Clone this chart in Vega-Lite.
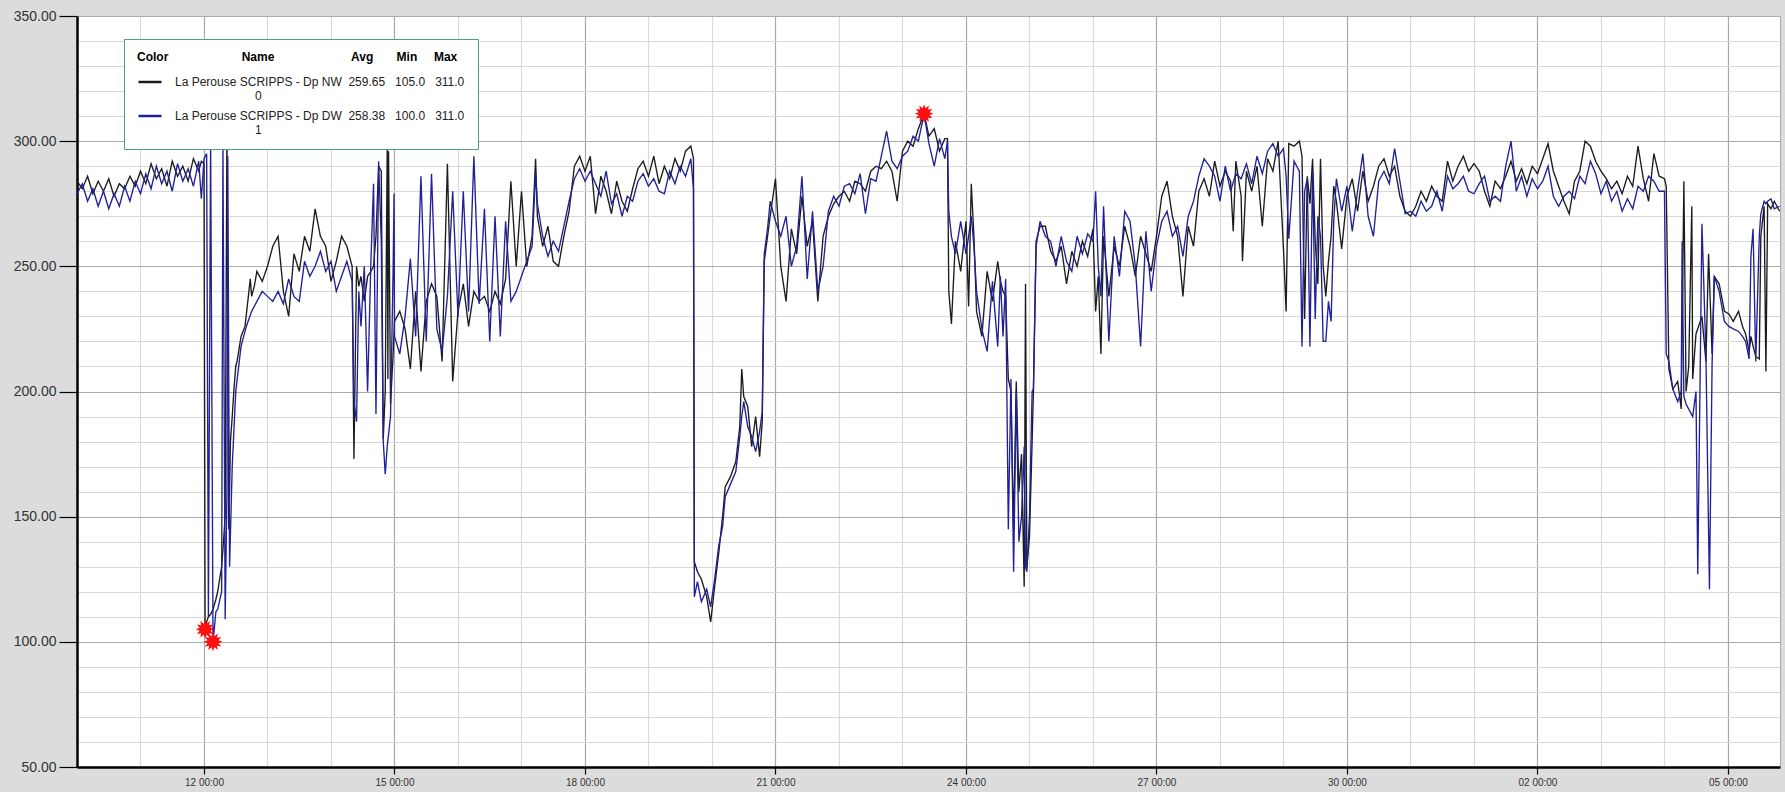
{
"$schema":"https://vega.github.io/schema/vega-lite/v6.json",
"width":1703,"height":751,
"autosize":{"type":"none"},
"padding":{"left":77,"top":16,"right":5,"bottom":25},
"background":"#dcdcdc",
"config":{"view":{"fill":"#ffffff","stroke":"#a8a8a8","strokeWidth":1},"font":"Liberation Sans"},
"data":{"values":[
{"t":"2014-10-10T00:00","NW":284,"DW":279},{"t":"2014-10-10T02:00","NW":281,"DW":283},{"t":"2014-10-10T04:00","NW":286,"DW":276},{"t":"2014-10-10T06:00","NW":279,"DW":281},{"t":"2014-10-10T08:00","NW":284,"DW":274},{"t":"2014-10-10T10:00","NW":280,"DW":280},{"t":"2014-10-10T12:00","NW":285,"DW":273},{"t":"2014-10-10T14:00","NW":278,"DW":279},{"t":"2014-10-10T16:00","NW":283,"DW":274},{"t":"2014-10-10T18:00","NW":281,"DW":282},{"t":"2014-10-10T20:00","NW":286,"DW":276},{"t":"2014-10-10T22:00","NW":282,"DW":284},
{"t":"2014-10-11T00:00","NW":288,"DW":279},{"t":"2014-10-11T02:00","NW":283,"DW":287},{"t":"2014-10-11T04:00","NW":291,"DW":281},{"t":"2014-10-11T06:00","NW":285,"DW":290},{"t":"2014-10-11T08:00","NW":289,"DW":283},{"t":"2014-10-11T10:00","NW":282,"DW":288},{"t":"2014-10-11T12:00","NW":292,"DW":280},{"t":"2014-10-11T14:00","NW":286,"DW":291},{"t":"2014-10-11T16:00","NW":290,"DW":284},{"t":"2014-10-11T18:00","NW":284,"DW":289},{"t":"2014-10-11T20:00","NW":293,"DW":282},{"t":"2014-10-11T22:00","NW":288,"DW":292},{"t":"2014-10-11T23:00","NW":292,"DW":277},
{"t":"2014-10-12T00:00","NW":291,"DW":293},{"t":"2014-10-12T00:25","NW":105,"DW":null},{"t":"2014-10-12T01:00","NW":108,"DW":295},{"t":"2014-10-12T01:40","NW":110,"DW":110},{"t":"2014-10-12T02:30","NW":111,"DW":301},{"t":"2014-10-12T03:25","NW":113,"DW":100},{"t":"2014-10-12T04:30","NW":117,"DW":112},{"t":"2014-10-12T05:10","NW":120,"DW":113},{"t":"2014-10-12T06:40","NW":130,"DW":120},{"t":"2014-10-12T07:10","NW":137,"DW":298},{"t":"2014-10-12T08:00","NW":150,"DW":109},{"t":"2014-10-12T08:40","NW":305,"DW":160},{"t":"2014-10-12T09:00","NW":null,"DW":294},{"t":"2014-10-12T09:20","NW":145,"DW":null},{"t":"2014-10-12T09:40","NW":160,"DW":130},{"t":"2014-10-12T10:00","NW":180,"DW":null},{"t":"2014-10-12T10:40","NW":190,"DW":170},{"t":"2014-10-12T11:20","NW":201,"DW":null},{"t":"2014-10-12T12:00","NW":210,"DW":200},{"t":"2014-10-12T12:30","NW":212,"DW":null},{"t":"2014-10-12T14:00","NW":222,"DW":218},{"t":"2014-10-12T15:30","NW":226,"DW":null},{"t":"2014-10-12T16:00","NW":null,"DW":226},{"t":"2014-10-12T17:30","NW":245,"DW":null},{"t":"2014-10-12T18:00","NW":238,"DW":232},{"t":"2014-10-12T19:00","NW":242,"DW":null},{"t":"2014-10-12T20:00","NW":248,"DW":236},{"t":"2014-10-12T22:00","NW":244,"DW":240},
{"t":"2014-10-13T00:00","NW":250,"DW":238},{"t":"2014-10-13T02:00","NW":258,"DW":236},{"t":"2014-10-13T04:00","NW":262,"DW":240},{"t":"2014-10-13T06:00","NW":240,"DW":235},{"t":"2014-10-13T08:00","NW":230,"DW":245},{"t":"2014-10-13T10:00","NW":255,"DW":238},{"t":"2014-10-13T12:00","NW":248,"DW":236},{"t":"2014-10-13T14:00","NW":262,"DW":252},{"t":"2014-10-13T16:00","NW":256,"DW":246},{"t":"2014-10-13T18:00","NW":273,"DW":250},{"t":"2014-10-13T20:00","NW":262,"DW":256},{"t":"2014-10-13T22:00","NW":258,"DW":248},
{"t":"2014-10-14T00:00","NW":244,"DW":252},{"t":"2014-10-14T02:00","NW":252,"DW":240},{"t":"2014-10-14T04:00","NW":262,"DW":246},{"t":"2014-10-14T06:00","NW":258,"DW":252},{"t":"2014-10-14T08:00","NW":250,"DW":244},{"t":"2014-10-14T08:40","NW":173,"DW":196},{"t":"2014-10-14T09:40","NW":250,"DW":188},{"t":"2014-10-14T10:30","NW":242,"DW":240},{"t":"2014-10-14T11:20","NW":246,"DW":226},{"t":"2014-10-14T12:35","NW":236,"DW":250},{"t":"2014-10-14T13:50","NW":246,"DW":200},{"t":"2014-10-14T15:05","NW":248,"DW":252},{"t":"2014-10-14T16:05","NW":250,"DW":283},{"t":"2014-10-14T17:00","NW":262,"DW":191},{"t":"2014-10-14T18:00","NW":290,"DW":292},{"t":"2014-10-14T19:00","NW":288,"DW":260},{"t":"2014-10-14T19:45","NW":181,"DW":180},{"t":"2014-10-14T20:30","NW":200,"DW":167},{"t":"2014-10-14T21:15","NW":297,"DW":178},{"t":"2014-10-14T21:30","NW":205,"DW":null},{"t":"2014-10-14T21:45","NW":296,"DW":null},{"t":"2014-10-14T22:30","NW":195,"DW":190},{"t":"2014-10-14T23:30","NW":215,"DW":250},{"t":"2014-10-14T23:50","NW":null,"DW":279},
{"t":"2014-10-15T00:00","NW":228,"DW":222},{"t":"2014-10-15T02:00","NW":232,"DW":215},{"t":"2014-10-15T04:00","NW":225,"DW":230},{"t":"2014-10-15T06:00","NW":209,"DW":253},{"t":"2014-10-15T08:00","NW":240,"DW":222},{"t":"2014-10-15T10:00","NW":208,"DW":286},{"t":"2014-10-15T12:00","NW":236,"DW":220},{"t":"2014-10-15T14:00","NW":243,"DW":287},{"t":"2014-10-15T16:00","NW":238,"DW":225},{"t":"2014-10-15T18:00","NW":212,"DW":216},{"t":"2014-10-15T20:00","NW":291,"DW":238},{"t":"2014-10-15T22:00","NW":204,"DW":280},
{"t":"2014-10-16T00:00","NW":232,"DW":230},{"t":"2014-10-16T02:00","NW":243,"DW":280},{"t":"2014-10-16T04:00","NW":226,"DW":232},{"t":"2014-10-16T06:00","NW":240,"DW":294},{"t":"2014-10-16T08:00","NW":236,"DW":235},{"t":"2014-10-16T10:00","NW":238,"DW":273},{"t":"2014-10-16T12:00","NW":232,"DW":220},{"t":"2014-10-16T14:00","NW":240,"DW":270},{"t":"2014-10-16T16:00","NW":235,"DW":222},{"t":"2014-10-16T18:00","NW":245,"DW":268},{"t":"2014-10-16T20:00","NW":284,"DW":236},{"t":"2014-10-16T22:00","NW":250,"DW":240},
{"t":"2014-10-17T00:00","NW":280,"DW":246},{"t":"2014-10-17T02:00","NW":250,"DW":252},{"t":"2014-10-17T04:00","NW":262,"DW":258},{"t":"2014-10-17T05:20","NW":293,"DW":287},{"t":"2014-10-17T06:00","NW":270,"DW":275},{"t":"2014-10-17T08:00","NW":258,"DW":262},{"t":"2014-10-17T10:00","NW":266,"DW":254},{"t":"2014-10-17T12:00","NW":252,"DW":260},{"t":"2014-10-17T14:00","NW":250,"DW":256},{"t":"2014-10-17T16:00","NW":262,"DW":266},{"t":"2014-10-17T18:00","NW":272,"DW":276},{"t":"2014-10-17T20:00","NW":290,"DW":285},{"t":"2014-10-17T22:00","NW":294,"DW":289},
{"t":"2014-10-18T00:00","NW":288,"DW":284},{"t":"2014-10-18T02:00","NW":294,"DW":288},{"t":"2014-10-18T04:00","NW":271,"DW":283},{"t":"2014-10-18T06:00","NW":286,"DW":278},{"t":"2014-10-18T08:00","NW":280,"DW":288},{"t":"2014-10-18T10:00","NW":271,"DW":275},{"t":"2014-10-18T12:00","NW":284,"DW":279},{"t":"2014-10-18T14:00","NW":276,"DW":270},{"t":"2014-10-18T16:00","NW":272,"DW":278},{"t":"2014-10-18T18:00","NW":281,"DW":276},{"t":"2014-10-18T20:00","NW":289,"DW":284},{"t":"2014-10-18T22:00","NW":292,"DW":287},
{"t":"2014-10-19T00:00","NW":286,"DW":282},{"t":"2014-10-19T02:00","NW":294,"DW":285},{"t":"2014-10-19T04:00","NW":283,"DW":280},{"t":"2014-10-19T06:00","NW":290,"DW":279},{"t":"2014-10-19T08:00","NW":285,"DW":288},{"t":"2014-10-19T10:00","NW":293,"DW":283},{"t":"2014-10-19T12:00","NW":288,"DW":290},{"t":"2014-10-19T14:00","NW":296,"DW":286},{"t":"2014-10-19T16:00","NW":298,"DW":293},{"t":"2014-10-19T17:00","NW":293,"DW":281},{"t":"2014-10-19T17:20","NW":132,"DW":118},{"t":"2014-10-19T18:30","NW":128,"DW":124},{"t":"2014-10-19T20:00","NW":125,"DW":116},{"t":"2014-10-19T22:00","NW":118,"DW":121},{"t":"2014-10-19T23:30","NW":108,"DW":114},
{"t":"2014-10-20T01:00","NW":122,"DW":125},{"t":"2014-10-20T02:30","NW":135,"DW":138},{"t":"2014-10-20T04:00","NW":150,"DW":146},{"t":"2014-10-20T05:00","NW":162,"DW":158},{"t":"2014-10-20T07:00","NW":166,"DW":163},{"t":"2014-10-20T09:00","NW":172,"DW":168},{"t":"2014-10-20T10:30","NW":186,"DW":182},{"t":"2014-10-20T11:15","NW":209,"DW":190},{"t":"2014-10-20T12:00","NW":198,"DW":196},{"t":"2014-10-20T13:30","NW":194,"DW":186},{"t":"2014-10-20T15:00","NW":178,"DW":182},{"t":"2014-10-20T16:30","NW":190,"DW":176},{"t":"2014-10-20T18:00","NW":174,"DW":184},{"t":"2014-10-20T19:00","NW":188,"DW":192},{"t":"2014-10-20T19:45","NW":252,"DW":255},{"t":"2014-10-20T21:00","NW":262,"DW":265},{"t":"2014-10-20T22:00","NW":270,"DW":276},
{"t":"2014-10-21T00:00","NW":285,"DW":268},{"t":"2014-10-21T02:00","NW":250,"DW":262},{"t":"2014-10-21T04:00","NW":236,"DW":270},{"t":"2014-10-21T06:00","NW":265,"DW":250},{"t":"2014-10-21T08:00","NW":255,"DW":258},{"t":"2014-10-21T10:00","NW":278,"DW":286},{"t":"2014-10-21T12:00","NW":258,"DW":245},{"t":"2014-10-21T14:00","NW":268,"DW":272},{"t":"2014-10-21T16:00","NW":236,"DW":240},{"t":"2014-10-21T18:00","NW":262,"DW":250},{"t":"2014-10-21T20:00","NW":270,"DW":272},{"t":"2014-10-21T22:00","NW":275,"DW":278},
{"t":"2014-10-22T00:00","NW":278,"DW":274},{"t":"2014-10-22T02:00","NW":280,"DW":282},{"t":"2014-10-22T04:00","NW":276,"DW":283},{"t":"2014-10-22T06:00","NW":284,"DW":279},{"t":"2014-10-22T08:00","NW":283,"DW":287},{"t":"2014-10-22T10:00","NW":280,"DW":271},{"t":"2014-10-22T12:00","NW":288,"DW":285},{"t":"2014-10-22T14:00","NW":290,"DW":284},{"t":"2014-10-22T16:00","NW":289,"DW":294},{"t":"2014-10-22T18:00","NW":292,"DW":304},{"t":"2014-10-22T20:00","NW":288,"DW":292},{"t":"2014-10-22T22:00","NW":276,"DW":289},
{"t":"2014-10-23T00:00","NW":296,"DW":294},{"t":"2014-10-23T02:00","NW":300,"DW":296},{"t":"2014-10-23T04:00","NW":298,"DW":302},{"t":"2014-10-23T06:00","NW":305,"DW":300},{"t":"2014-10-23T08:10","NW":311,"DW":311},{"t":"2014-10-23T10:00","NW":302,"DW":299},{"t":"2014-10-23T12:00","NW":305,"DW":290},{"t":"2014-10-23T14:00","NW":296,"DW":301},{"t":"2014-10-23T16:00","NW":301,"DW":293},{"t":"2014-10-23T17:00","NW":301,"DW":300},{"t":"2014-10-23T17:30","NW":240,"DW":272},{"t":"2014-10-23T18:30","NW":227,"DW":262},{"t":"2014-10-23T20:00","NW":260,"DW":255},{"t":"2014-10-23T22:00","NW":248,"DW":268},
{"t":"2014-10-24T00:00","NW":268,"DW":255},{"t":"2014-10-24T01:00","NW":234,"DW":262},{"t":"2014-10-24T02:00","NW":283,"DW":270},{"t":"2014-10-24T03:00","NW":262,"DW":258},{"t":"2014-10-24T04:00","NW":232,"DW":240},{"t":"2014-10-24T06:00","NW":222,"DW":225},{"t":"2014-10-24T08:00","NW":248,"DW":216},{"t":"2014-10-24T10:00","NW":236,"DW":244},{"t":"2014-10-24T12:00","NW":252,"DW":218},{"t":"2014-10-24T13:00","NW":244,"DW":246},{"t":"2014-10-24T14:00","NW":240,"DW":222},{"t":"2014-10-24T15:00","NW":238,"DW":245},{"t":"2014-10-24T16:00","NW":205,"DW":145},{"t":"2014-10-24T17:00","NW":200,"DW":205},{"t":"2014-10-24T18:00","NW":145,"DW":128},{"t":"2014-10-24T19:00","NW":204,"DW":200},{"t":"2014-10-24T20:00","NW":160,"DW":140},{"t":"2014-10-24T21:00","NW":175,"DW":150},{"t":"2014-10-24T22:00","NW":122,"DW":178},{"t":"2014-10-24T22:30","NW":243,"DW":130},{"t":"2014-10-24T23:00","NW":130,"DW":128},
{"t":"2014-10-25T00:00","NW":142,"DW":150},{"t":"2014-10-25T01:00","NW":180,"DW":200},{"t":"2014-10-25T01:30","NW":201,"DW":201},{"t":"2014-10-25T02:30","NW":260,"DW":258},{"t":"2014-10-25T04:00","NW":266,"DW":268},{"t":"2014-10-25T06:00","NW":266,"DW":262},{"t":"2014-10-25T08:00","NW":256,"DW":260},{"t":"2014-10-25T10:00","NW":252,"DW":250},{"t":"2014-10-25T12:00","NW":258,"DW":262},{"t":"2014-10-25T14:00","NW":243,"DW":252},{"t":"2014-10-25T16:00","NW":256,"DW":248},{"t":"2014-10-25T18:00","NW":250,"DW":262},{"t":"2014-10-25T20:00","NW":260,"DW":255},{"t":"2014-10-25T22:00","NW":254,"DW":263},
{"t":"2014-10-26T00:00","NW":265,"DW":260},{"t":"2014-10-26T01:00","NW":232,"DW":280},{"t":"2014-10-26T02:00","NW":246,"DW":250},{"t":"2014-10-26T03:00","NW":215,"DW":238},{"t":"2014-10-26T04:00","NW":262,"DW":274},{"t":"2014-10-26T06:00","NW":238,"DW":220},{"t":"2014-10-26T08:00","NW":258,"DW":262},{"t":"2014-10-26T10:00","NW":250,"DW":246},{"t":"2014-10-26T12:00","NW":266,"DW":272},{"t":"2014-10-26T14:00","NW":258,"DW":268},{"t":"2014-10-26T16:00","NW":246,"DW":250},{"t":"2014-10-26T18:00","NW":262,"DW":218},{"t":"2014-10-26T20:00","NW":255,"DW":264},{"t":"2014-10-26T22:00","NW":248,"DW":240},
{"t":"2014-10-27T00:00","NW":262,"DW":258},{"t":"2014-10-27T02:00","NW":278,"DW":268},{"t":"2014-10-27T04:00","NW":284,"DW":272},{"t":"2014-10-27T06:00","NW":270,"DW":262},{"t":"2014-10-27T08:00","NW":262,"DW":266},{"t":"2014-10-27T10:00","NW":238,"DW":254},{"t":"2014-10-27T12:00","NW":266,"DW":270},{"t":"2014-10-27T14:00","NW":258,"DW":276},{"t":"2014-10-27T16:00","NW":280,"DW":286},{"t":"2014-10-27T18:00","NW":285,"DW":293},{"t":"2014-10-27T20:00","NW":278,"DW":290},{"t":"2014-10-27T22:00","NW":292,"DW":286},
{"t":"2014-10-28T00:00","NW":282,"DW":276},{"t":"2014-10-28T02:00","NW":288,"DW":290},{"t":"2014-10-28T04:00","NW":284,"DW":280},{"t":"2014-10-28T05:00","NW":264,"DW":null},{"t":"2014-10-28T06:00","NW":292,"DW":287},{"t":"2014-10-28T08:00","NW":278,"DW":285},{"t":"2014-10-28T08:30","NW":252,"DW":null},{"t":"2014-10-28T10:00","NW":288,"DW":291},{"t":"2014-10-28T12:00","NW":280,"DW":283},{"t":"2014-10-28T14:00","NW":290,"DW":294},{"t":"2014-10-28T16:00","NW":266,"DW":287},{"t":"2014-10-28T18:00","NW":293,"DW":296},{"t":"2014-10-28T20:00","NW":288,"DW":299},{"t":"2014-10-28T22:00","NW":300,"DW":294},
{"t":"2014-10-29T00:00","NW":257,"DW":297},{"t":"2014-10-29T01:00","NW":232,"DW":286},{"t":"2014-10-29T02:00","NW":299,"DW":261},{"t":"2014-10-29T04:00","NW":298,"DW":292},{"t":"2014-10-29T06:00","NW":300,"DW":288},{"t":"2014-10-29T07:00","NW":294,"DW":218},{"t":"2014-10-29T08:00","NW":229,"DW":280},{"t":"2014-10-29T09:00","NW":286,"DW":285},{"t":"2014-10-29T10:00","NW":275,"DW":218},{"t":"2014-10-29T11:00","NW":293,"DW":288},{"t":"2014-10-29T12:00","NW":260,"DW":229},{"t":"2014-10-29T13:00","NW":243,"DW":270},{"t":"2014-10-29T14:00","NW":293,"DW":262},{"t":"2014-10-29T15:00","NW":250,"DW":220},{"t":"2014-10-29T16:00","NW":238,"DW":220},{"t":"2014-10-29T17:00","NW":252,"DW":236},{"t":"2014-10-29T18:00","NW":262,"DW":228},{"t":"2014-10-29T19:00","NW":282,"DW":268},{"t":"2014-10-29T20:00","NW":276,"DW":285},{"t":"2014-10-29T22:00","NW":257,"DW":272},
{"t":"2014-10-30T00:00","NW":278,"DW":282},{"t":"2014-10-30T02:00","NW":285,"DW":264},{"t":"2014-10-30T04:00","NW":272,"DW":280},{"t":"2014-10-30T06:00","NW":288,"DW":295},{"t":"2014-10-30T08:00","NW":276,"DW":270},{"t":"2014-10-30T10:00","NW":282,"DW":262},{"t":"2014-10-30T12:00","NW":290,"DW":284},{"t":"2014-10-30T14:00","NW":293,"DW":288},{"t":"2014-10-30T16:00","NW":286,"DW":283},{"t":"2014-10-30T18:00","NW":290,"DW":297},{"t":"2014-10-30T20:00","NW":278,"DW":284},{"t":"2014-10-30T22:00","NW":272,"DW":271},
{"t":"2014-10-31T00:00","NW":270,"DW":272},{"t":"2014-10-31T02:00","NW":274,"DW":270},{"t":"2014-10-31T04:00","NW":280,"DW":276},{"t":"2014-10-31T06:00","NW":276,"DW":272},{"t":"2014-10-31T08:00","NW":282,"DW":274},{"t":"2014-10-31T10:00","NW":278,"DW":280},{"t":"2014-10-31T12:00","NW":276,"DW":272},{"t":"2014-10-31T14:00","NW":292,"DW":286},{"t":"2014-10-31T16:00","NW":284,"DW":281},{"t":"2014-10-31T18:00","NW":290,"DW":283},{"t":"2014-10-31T20:00","NW":294,"DW":286},{"t":"2014-10-31T22:00","NW":288,"DW":280},
{"t":"2014-11-01T00:00","NW":291,"DW":279},{"t":"2014-11-01T02:00","NW":288,"DW":283},{"t":"2014-11-01T04:00","NW":280,"DW":286},{"t":"2014-11-01T06:00","NW":274,"DW":276},{"t":"2014-11-01T08:00","NW":284,"DW":278},{"t":"2014-11-01T10:00","NW":281,"DW":276},{"t":"2014-11-01T12:00","NW":286,"DW":290},{"t":"2014-11-01T14:00","NW":292,"DW":300},{"t":"2014-11-01T16:00","NW":284,"DW":280},{"t":"2014-11-01T18:00","NW":289,"DW":286},{"t":"2014-11-01T20:00","NW":283,"DW":278},{"t":"2014-11-01T22:00","NW":290,"DW":285},
{"t":"2014-11-02T00:00","NW":287,"DW":281},{"t":"2014-11-02T02:00","NW":293,"DW":284},{"t":"2014-11-02T04:00","NW":299,"DW":290},{"t":"2014-11-02T06:00","NW":288,"DW":278},{"t":"2014-11-02T08:00","NW":282,"DW":274},{"t":"2014-11-02T10:00","NW":276,"DW":278},{"t":"2014-11-02T12:00","NW":271,"DW":280},{"t":"2014-11-02T14:00","NW":284,"DW":277},{"t":"2014-11-02T16:00","NW":288,"DW":286},{"t":"2014-11-02T18:00","NW":300,"DW":283},{"t":"2014-11-02T20:00","NW":298,"DW":292},{"t":"2014-11-02T22:00","NW":292,"DW":287},
{"t":"2014-11-03T00:00","NW":288,"DW":279},{"t":"2014-11-03T02:00","NW":285,"DW":284},{"t":"2014-11-03T04:00","NW":281,"DW":276},{"t":"2014-11-03T06:00","NW":284,"DW":280},{"t":"2014-11-03T08:00","NW":279,"DW":272},{"t":"2014-11-03T10:00","NW":286,"DW":277},{"t":"2014-11-03T12:00","NW":282,"DW":273},{"t":"2014-11-03T14:00","NW":298,"DW":282},{"t":"2014-11-03T16:00","NW":285,"DW":280},{"t":"2014-11-03T18:00","NW":276,"DW":286},{"t":"2014-11-03T20:00","NW":295,"DW":284},{"t":"2014-11-03T22:00","NW":286,"DW":280},
{"t":"2014-11-04T00:00","NW":285,"DW":280},{"t":"2014-11-04T00:40","NW":282,"DW":215},{"t":"2014-11-04T01:40","NW":209,"DW":212},{"t":"2014-11-04T03:10","NW":201,"DW":201},{"t":"2014-11-04T05:00","NW":204,"DW":196},{"t":"2014-11-04T06:20","NW":193,"DW":200},{"t":"2014-11-04T06:40","NW":null,"DW":260},{"t":"2014-11-04T07:20","NW":284,"DW":198},{"t":"2014-11-04T08:10","NW":200,"DW":195},{"t":"2014-11-04T09:10","NW":210,"DW":null},{"t":"2014-11-04T10:20","NW":274,"DW":null},{"t":"2014-11-04T10:40","NW":205,"DW":190},{"t":"2014-11-04T11:55","NW":223,"DW":200},{"t":"2014-11-04T12:35","NW":null,"DW":127},{"t":"2014-11-04T14:10","NW":230,"DW":267},{"t":"2014-11-04T15:40","NW":212,"DW":215},{"t":"2014-11-04T16:40","NW":255,"DW":null},{"t":"2014-11-04T17:00","NW":null,"DW":121},{"t":"2014-11-04T18:00","NW":215,"DW":211},{"t":"2014-11-04T18:50","NW":246,"DW":246},{"t":"2014-11-04T20:40","NW":243,"DW":240},{"t":"2014-11-04T22:40","NW":232,"DW":228},
{"t":"2014-11-05T00:20","NW":231,"DW":226},{"t":"2014-11-05T02:00","NW":228,"DW":225},{"t":"2014-11-05T04:00","NW":232,"DW":224},{"t":"2014-11-05T05:30","NW":226,"DW":222},{"t":"2014-11-05T06:40","NW":223,"DW":220},{"t":"2014-11-05T08:00","NW":216,"DW":213},{"t":"2014-11-05T08:40","NW":222,"DW":254},{"t":"2014-11-05T09:30","NW":218,"DW":265},{"t":"2014-11-05T10:30","NW":214,"DW":212},{"t":"2014-11-05T11:50","NW":213,"DW":262},{"t":"2014-11-05T12:25","NW":262,"DW":271},{"t":"2014-11-05T13:40","NW":274,"DW":276},{"t":"2014-11-05T14:20","NW":208,"DW":275},{"t":"2014-11-05T15:00","NW":275,"DW":276},{"t":"2014-11-05T16:15","NW":273,"DW":277},{"t":"2014-11-05T17:30","NW":276,"DW":273},{"t":"2014-11-05T19:30","NW":272,"DW":274}
]},
"encoding":{
"x":{"field":"t","type":"temporal","scale":{"domain":[{"year":2014,"month":10,"date":10,"hours":0},{"year":2014,"month":11,"date":5,"hours":19,"minutes":40}],"nice":false},
"axis":{"title":null,
"values":[{"year":2014,"month":10,"date":10},{"year":2014,"month":10,"date":11},{"year":2014,"month":10,"date":12},{"year":2014,"month":10,"date":13},{"year":2014,"month":10,"date":14},{"year":2014,"month":10,"date":15},{"year":2014,"month":10,"date":16},{"year":2014,"month":10,"date":17},{"year":2014,"month":10,"date":18},{"year":2014,"month":10,"date":19},{"year":2014,"month":10,"date":20},{"year":2014,"month":10,"date":21},{"year":2014,"month":10,"date":22},{"year":2014,"month":10,"date":23},{"year":2014,"month":10,"date":24},{"year":2014,"month":10,"date":25},{"year":2014,"month":10,"date":26},{"year":2014,"month":10,"date":27},{"year":2014,"month":10,"date":28},{"year":2014,"month":10,"date":29},{"year":2014,"month":10,"date":30},{"year":2014,"month":10,"date":31},{"year":2014,"month":11,"date":1},{"year":2014,"month":11,"date":2},{"year":2014,"month":11,"date":3},{"year":2014,"month":11,"date":4},{"year":2014,"month":11,"date":5}],
"labelExpr":"round((datum.value - datetime(2014,9,12)) / 86400000) % 3 == 0 ? timeFormat(datum.value, '%d %H:%M') : ''",
"labelFont":"Liberation Sans","labelFontSize":10,"labelColor":"#333333","labelOverlap":false,"labelBound":false,"labelFlush":false,"labelPadding":3,
"tickSize":7,"tickColor":"#000000","tickWidth":1.2,
"tickOpacity":{"condition":{"test":"round((datum.value - datetime(2014,9,12)) / 86400000) % 3 == 0","value":1},"value":0},
"grid":true,
"gridColor":{"condition":{"test":"round((datum.value - datetime(2014,9,12)) / 86400000) % 3 == 0","value":"#a9a9a9"},"value":"#dadada"},
"gridWidth":1.2,"domainColor":"#000000","domainWidth":2.5}},
"y":{"field":"v","type":"quantitative","scale":{"domain":[50,350],"nice":false,"zero":false},
"axis":{"title":null,"values":[50,60,70,80,90,100,110,120,130,140,150,160,170,180,190,200,210,220,230,240,250,260,270,280,290,300,310,320,330,340,350],
"labelExpr":"datum.value % 50 == 0 ? format(datum.value, '.2f') : ''",
"labelFont":"Liberation Sans","labelFontSize":14,"labelColor":"#333333","labelPadding":3,"labelOverlap":false,"labelBound":false,"labelFlush":false,
"tickSize":18,"tickColor":"#000000","tickWidth":1.2,
"tickOpacity":{"condition":{"test":"datum.value % 50 == 0","value":1},"value":0},
"grid":true,
"gridColor":{"condition":{"test":"datum.value % 50 == 0","value":"#ababab"},"value":"#d8d8d8"},
"gridWidth":1.2,"domainColor":"#000000","domainWidth":2.5}}
},
"layer":[
{"transform":[{"fold":["NW","DW"],"as":["s","v"]},{"filter":"isValid(datum.v) && datum.s === 'NW'"}],
"mark":{"type":"line","strokeWidth":1.35},
"encoding":{"color":{"field":"s","type":"nominal","scale":{"domain":["NW","DW"],"range":["#1c1c1c","#20209a"]},
"legend":{"orient":"none","legendX":47,"legendY":23,"direction":"vertical",
"title":"Color\u00a0\u00a0\u00a0\u00a0\u00a0\u00a0\u00a0\u00a0\u00a0\u00a0\u00a0\u00a0\u00a0\u00a0\u00a0\u00a0\u00a0\u00a0\u00a0\u00a0\u00a0\u00a0Name\u00a0\u00a0\u00a0\u00a0\u00a0\u00a0\u00a0\u00a0\u00a0\u00a0\u00a0\u00a0\u00a0\u00a0\u00a0\u00a0\u00a0\u00a0\u00a0\u00a0\u00a0\u00a0\u00a0Avg\u00a0\u00a0\u00a0\u00a0\u00a0\u00a0\u00a0Min\u00a0\u00a0\u00a0\u00a0\u00a0Max",
"titleFont":"Liberation Sans","titleFontSize":12,"titleFontWeight":"bold","titleColor":"#000000","titleAnchor":"start","titlePadding":5,"titleLimit":1000,
"padding":13,"strokeColor":"#4f9c80","fillColor":"#ffffff","cornerRadius":0,
"symbolType":"stroke","symbolStrokeWidth":2.5,"symbolSize":529,
"labelFont":"Liberation Sans","labelFontSize":12,"labelColor":"#222222","labelLimit":1000,"labelOffset":12,"rowPadding":1,
"labelExpr":"datum.label == 'NW' ? ['La Perouse SCRIPPS - Dp NW\u00a0\u00a0259.65\u00a0\u00a0\u00a0105.0\u00a0\u00a0\u00a0311.0', '\u200b\u00a0\u00a0\u00a0\u00a0\u00a0\u00a0\u00a0\u00a0\u00a0\u00a0\u00a0\u00a0\u00a0\u00a0\u00a0\u00a0\u00a0\u00a0\u00a0\u00a0\u00a0\u00a0\u00a0\u00a00'] : ['La Perouse SCRIPPS - Dp DW\u00a0\u00a0258.38\u00a0\u00a0\u00a0100.0\u00a0\u00a0\u00a0311.0', '\u200b\u00a0\u00a0\u00a0\u00a0\u00a0\u00a0\u00a0\u00a0\u00a0\u00a0\u00a0\u00a0\u00a0\u00a0\u00a0\u00a0\u00a0\u00a0\u00a0\u00a0\u00a0\u00a0\u00a0\u00a01']"}}}},
{"transform":[{"fold":["NW","DW"],"as":["s","v"]},{"filter":"isValid(datum.v) && datum.s === 'DW'"}],
"mark":{"type":"line","strokeWidth":1.35},
"encoding":{"color":{"field":"s","type":"nominal"}}},
{"data":{"values":[{"t":"2014-10-12T00:25","v":105},{"t":"2014-10-12T03:25","v":100},{"t":"2014-10-23T08:10","v":311}]},
"mark":{"type":"point","shape":"M1,0L0.58,0.155L0.866,0.5L0.424,0.424L0.5,0.866L0.155,0.58L0,1L-0.155,0.58L-0.5,0.866L-0.424,0.424L-0.866,0.5L-0.58,0.155L-1,0L-0.58,-0.155L-0.866,-0.5L-0.424,-0.424L-0.5,-0.866L-0.155,-0.58L0,-1L0.155,-0.58L0.5,-0.866L0.424,-0.424L0.866,-0.5L0.58,-0.155Z","filled":true,"color":"#ff1010","opacity":1,"size":360}}
]
}
